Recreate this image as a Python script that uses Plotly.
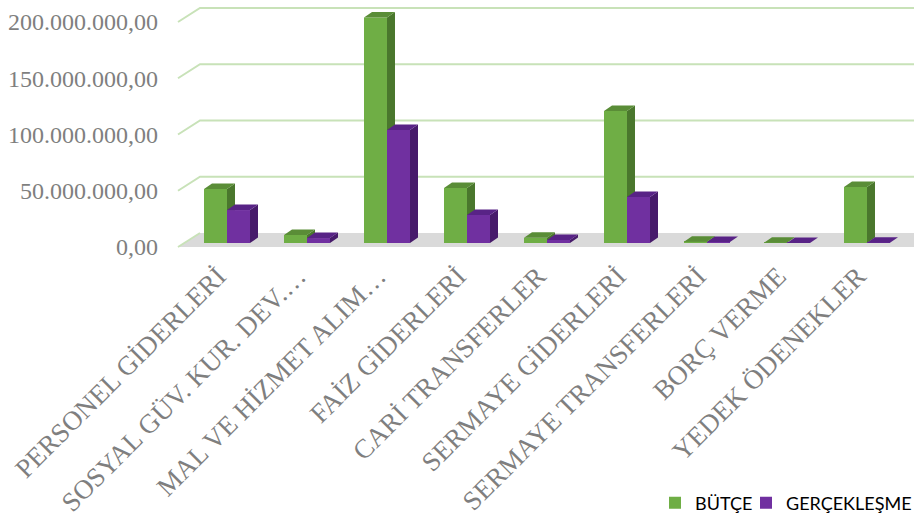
import plotly.graph_objects as go

# ---------------- data ----------------
categories = [
    "PERSONEL GİDERLERİ",
    "SOSYAL GÜV. KUR. DEV.…",
    "MAL VE HİZMET ALIM…",
    "FAİZ GİDERLERİ",
    "CARİ TRANSFERLER",
    "SERMAYE GİDERLERİ",
    "SERMAYE TRANSFERLERİ",
    "BORÇ VERME",
    "YEDEK ÖDENEKLER",
]
butce = [48.0e6, 7.1e6, 200.5e6, 48.9e6, 4.6e6, 117.3e6, 1.2e6, 0.2e6, 49.8e6]
gerceklesme = [29.3e6, 4.4e6, 100.4e6, 24.9e6, 2.7e6, 40.9e6, 0.8e6, 0.1e6, 0.3e6]
y_ticks = [0, 50e6, 100e6, 150e6, 200e6]
series_names = ["BÜTÇE", "GERÇEKLEŞME"]

# ---------------- style / geometry ----------------
W_PX, H_PX = 914, 523
PLOT_L, PLOT_T, PLOT_B = 171, 5, 252          # plot area pixels
PX_PER_CAT = 80.0
PX_PER_UNIT = 1.125e-6
X0 = -0.7
x_range = [X0, X0 + (W_PX - PLOT_L) / PX_PER_CAT]

# label axis (front plane): zero at pixel 247
lab_zero_px = 247
lab_range = [-(PLOT_B - lab_zero_px) / PX_PER_UNIT, (lab_zero_px - PLOT_T) / PX_PER_UNIT]
# bar axis (bar plane): zero at pixel 243
bar_zero_px = 243
bar_range = [-(PLOT_B - bar_zero_px) / PX_PER_UNIT, (bar_zero_px - PLOT_T) / PX_PER_UNIT]

BAR_W = 23 / PX_PER_CAT
DEPTH_X = 8 / PX_PER_CAT
DEPTH_Y = 5.5 / PX_PER_UNIT
GRID_FRONT_X = X0 + (178 - PLOT_L) / PX_PER_CAT
GRID_BACK_X = X0 + (200 - PLOT_L) / PX_PER_CAT
GRID_BACK_DY = 14 / PX_PER_UNIT

front_cols = ["#6fae45", "#7030a0"]
side_cols = ["#4a772d", "#471b6b"]
top_cols = ["#5a8d37", "#582386"]
grid_col = "rgb(200,226,184)"
text_grey = "#7f7f7f"
serif = "Liberation Serif"

fig = go.Figure()

# floor
fig.add_trace(go.Scatter(
    x=[GRID_FRONT_X, GRID_BACK_X, x_range[1], x_range[1], GRID_FRONT_X],
    y=[0, GRID_BACK_DY, GRID_BACK_DY, 0, 0],
    mode="lines", fill="toself", fillcolor="#dadada", line=dict(width=0),
    yaxis="y", showlegend=False, hoverinfo="skip"))

# gridlines (drawn in label-axis units)
for v in y_ticks:
    xs = [GRID_FRONT_X, GRID_BACK_X]
    ys = [v, v + GRID_BACK_DY]
    if v > 0:
        xs.append(x_range[1])
        ys.append(v + GRID_BACK_DY)
    fig.add_trace(go.Scatter(x=xs, y=ys, mode="lines",
                             line=dict(color=grid_col, width=2),
                             yaxis="y", showlegend=False, hoverinfo="skip"))

# 3D columns
legend_ids = ["legend", "legend2"]
for s, (name, vals) in enumerate(zip(series_names, [butce, gerceklesme])):
    off = -BAR_W if s == 0 else 0.0
    side_x, side_y, top_x, top_y = [], [], [], []
    for i, h in enumerate(vals):
        xl = i + off
        xr = xl + BAR_W
        side_x += [xr, xr + DEPTH_X, xr + DEPTH_X, xr, xr, None]
        side_y += [0, DEPTH_Y, h + DEPTH_Y, h, 0, None]
        top_x += [xl, xl + DEPTH_X, xr + DEPTH_X, xr, xl, None]
        top_y += [h, h + DEPTH_Y, h + DEPTH_Y, h, h, None]
    fig.add_trace(go.Bar(
        x=list(range(len(categories))), y=vals, name=name,
        width=BAR_W, offset=off, marker=dict(color=front_cols[s], line=dict(width=0)),
        yaxis="y2", zorder=s + 1, showlegend=True, legend=legend_ids[s]))
    fig.add_trace(go.Scatter(
        x=side_x, y=side_y, mode="lines", fill="toself", fillcolor=side_cols[s],
        line=dict(width=0), yaxis="y2", zorder=s + 1, showlegend=False, hoverinfo="skip"))
    fig.add_trace(go.Scatter(
        x=top_x, y=top_y, mode="lines", fill="toself", fillcolor=top_cols[s],
        line=dict(width=0), yaxis="y2", zorder=s + 1, showlegend=False, hoverinfo="skip"))

legend_style = dict(orientation="h", xref="container", yref="container",
                    xanchor="left", y=0.038, yanchor="middle",
                    font=dict(family="Lato", size=18, color="black"),
                    itemwidth=30, bgcolor="rgba(0,0,0,0)")

fig.update_layout(
    width=W_PX, height=H_PX,
    margin=dict(l=PLOT_L, r=0, t=PLOT_T, b=H_PX - PLOT_B, autoexpand=False),
    paper_bgcolor="white", plot_bgcolor="white",
    separators=",.",
    barmode="overlay",
    xaxis=dict(range=x_range, tickmode="array", tickvals=list(range(len(categories))),
               ticktext=categories, tickangle=-45, showgrid=False, zeroline=False,
               showline=False, ticks="", ticklabelstandoff=2, ticklabelshift=-9,
               automargin=False,
               tickfont=dict(family=serif, size=27, color=text_grey)),
    yaxis=dict(range=lab_range, tickmode="array", tickvals=y_ticks, tickformat=",.2f",
               showgrid=False, zeroline=False, showline=False, ticks="",
               ticklabelstandoff=12, automargin=False,
               tickfont=dict(family=serif, size=24, color=text_grey)),
    yaxis2=dict(range=bar_range, overlaying="y", visible=False, automargin=False),
    legend=dict(legend_style, x=655 / W_PX),
    legend2=dict(legend_style, x=746 / W_PX),
    showlegend=True,
)

fig.write_html("out.html", config={"displayModeBar": False},
               post_script="document.body.style.margin='0';document.body.style.overflow='hidden';")
